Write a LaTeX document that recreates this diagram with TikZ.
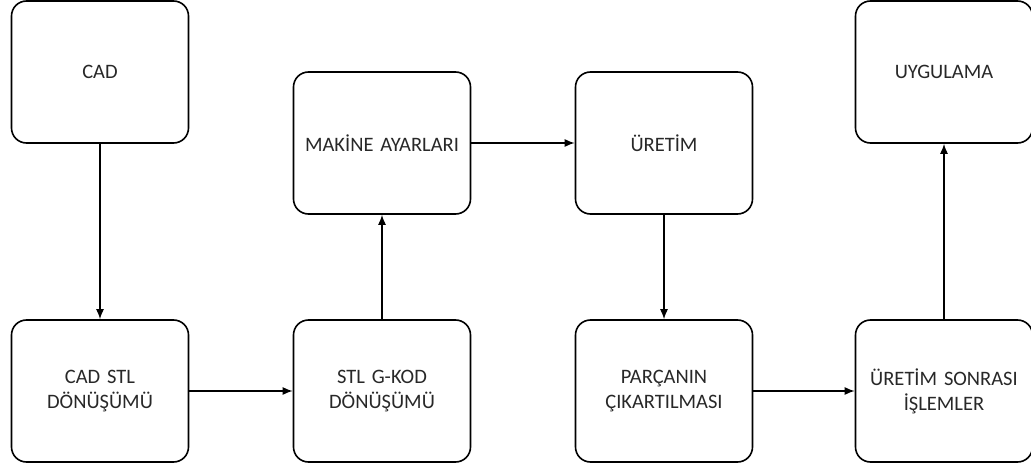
\documentclass[tikz,border=0pt]{standalone}
\usepackage{fontspec}
\setmainfont{Carlito}[WordSpace=0.7]
\usepackage{tikz}
\usetikzlibrary{shapes,arrows,arrows.meta,calc}
\definecolor{boxtext}{RGB}{40,40,40}
\tikzstyle{line} = [draw, line width=1.4pt, -{Latex[length=10pt,width=8pt]}]
\tikzstyle{block} = [draw, line width=1.6pt, rectangle, rounded corners=15pt, text centered, text width=170pt, minimum width=177pt, minimum height=142pt, text=boxtext, font=\fontsize{20.5}{25}\selectfont]

\begin{document}
\begin{tikzpicture}[x=1pt, y=1pt, node distance = 282pt, auto]
        \useasboundingbox (0,0) rectangle (1031,-468);
        \node[block] at (100,-72) (cad) {CAD};
        \node[block, below of=cad, node distance=319pt] (cadstl) {CAD STL\\DÖNÜŞÜMÜ};
        \node[block, right of=cadstl] (stlgkod) {STL G-KOD\\DÖNÜŞÜMÜ};
        \node[block, above of=stlgkod, node distance=248pt] (makine) {MAKİNE AYARLARI};
        \node[block, right of=makine] (uretim) {ÜRETİM};
        \node[block, below of=uretim, node distance=248pt] (parca) {PARÇANIN\\ÇIKARTILMASI};
        \node[block, right of=parca, node distance=280pt] (sonrasi) {ÜRETİM SONRASI\\İŞLEMLER};
        \node[block, above of=sonrasi, node distance=319pt] (uygulama) {UYGULAMA};
        \path[line] (cad) -- (cadstl);
        \path[line] (cadstl) -- (stlgkod);
        \path[line] (stlgkod) -- (makine);
        \path[line] (makine) -- (uretim);
        \path[line] (uretim) -- (parca);
        \path[line] (parca) -- (sonrasi);
        \path[line] (sonrasi) -- (uygulama);
    \end{tikzpicture}
\end{document}
